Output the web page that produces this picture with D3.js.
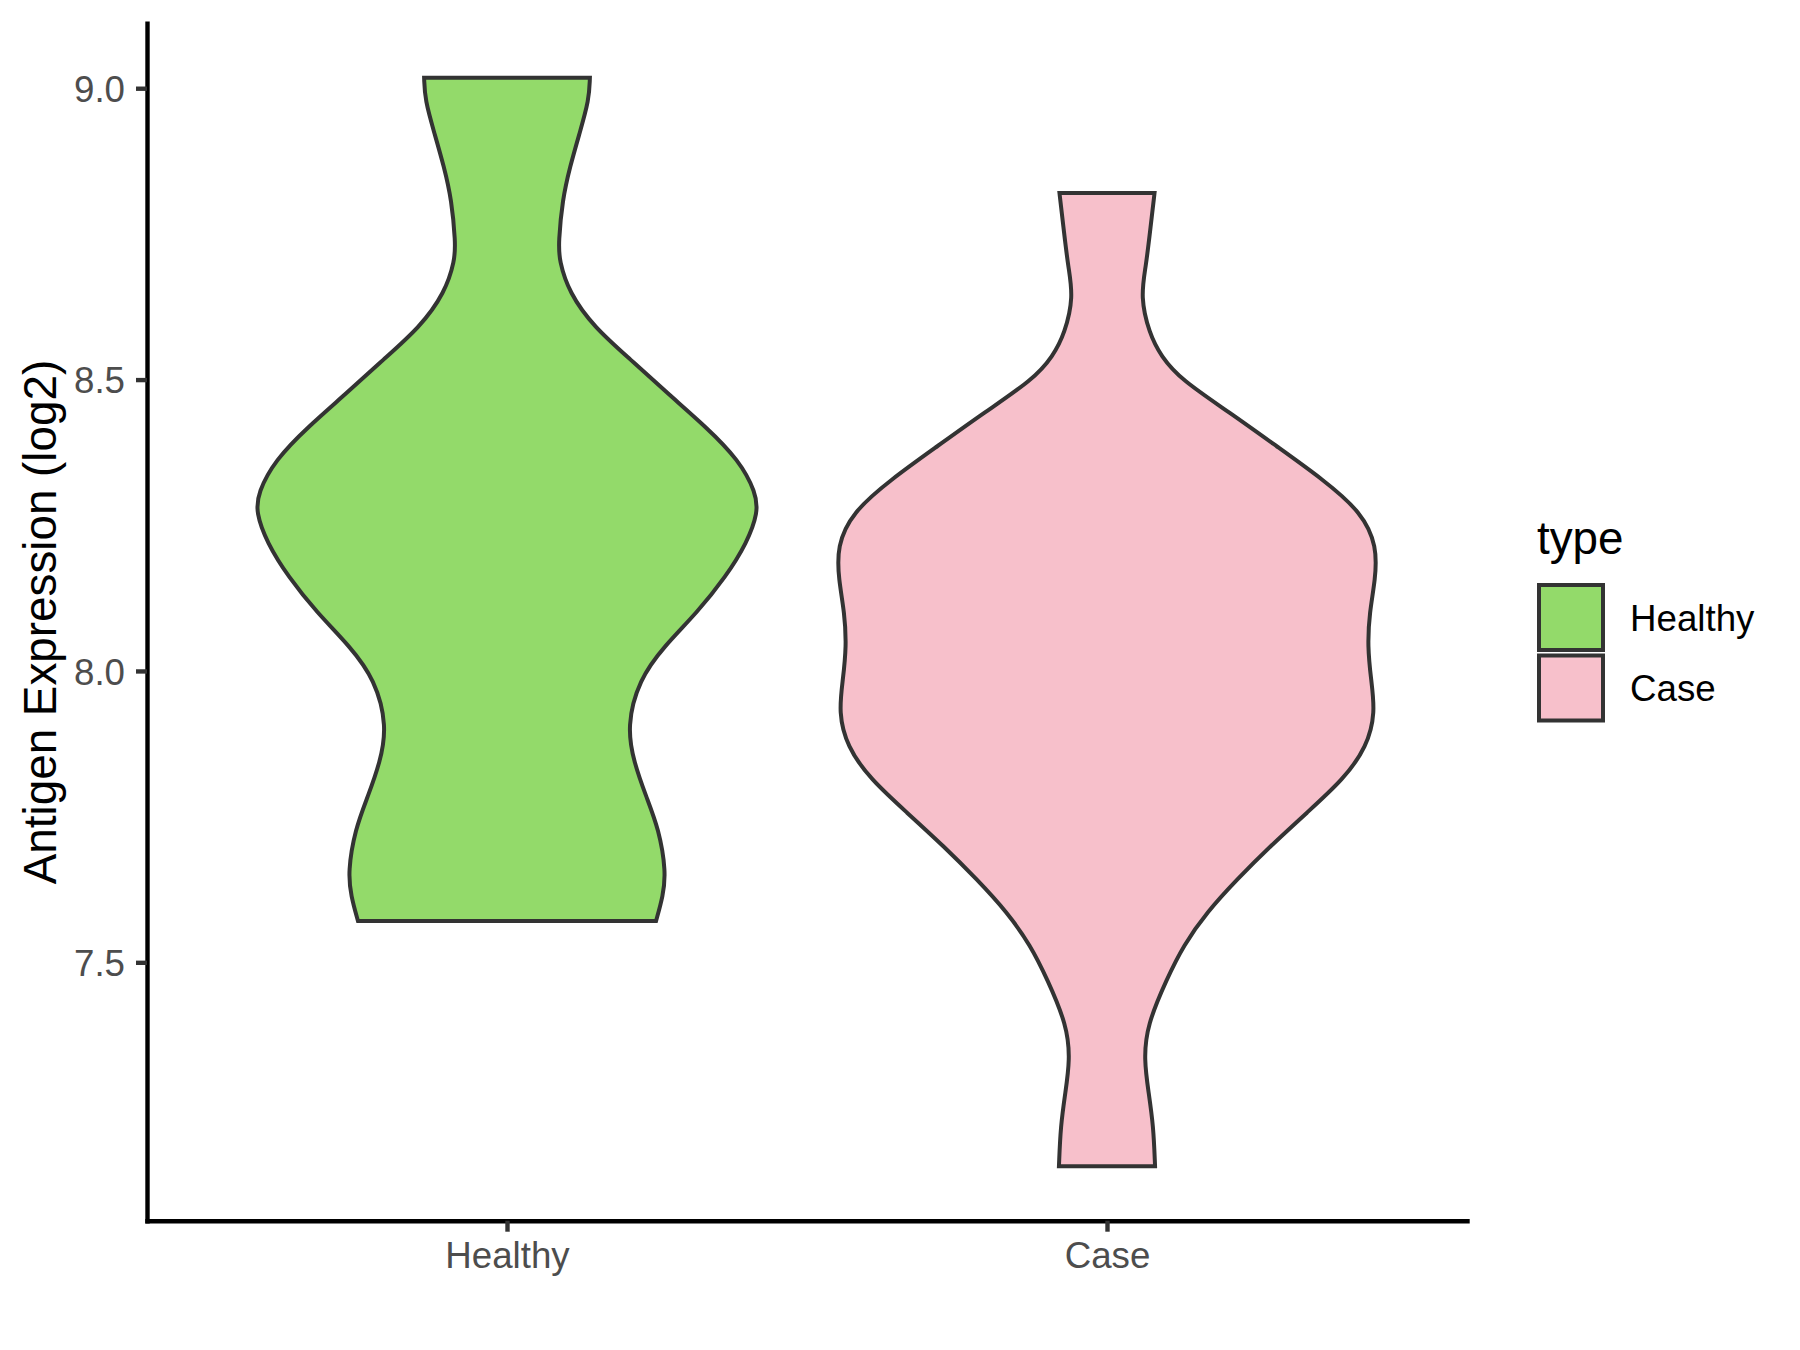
<!DOCTYPE html>
<html>
<head>
<meta charset="utf-8">
<script src="https://cdn.jsdelivr.net/npm/d3@7"></script>
<style>
  html, body { margin: 0; padding: 0; background: #ffffff; }
  svg { display: block; }
  text { font-family: "Liberation Sans", Arial, "DejaVu Sans", sans-serif; }
</style>
</head>
<body>
<svg id="chart" width="1800" height="1350"></svg>
<script>
// ---------------- data ----------------
const categories = ["Healthy", "Case"];
const fillColors = ["#93DA6A", "#F7C0CB"];
const yTickValues = [7.5, 8.0, 8.5, 9.0];
const yTitle = "Antigen Expression (log2)";
const legendTitle = "type";

// violin outlines: expression value (log2) and relative density
const healthyValues = [9.018, 8.980, 8.923, 8.865, 8.808, 8.735, 8.705, 8.649, 8.590, 8.534, 8.477, 8.419, 8.362, 8.306, 8.272, 8.220, 8.162, 8.100, 8.042, 7.985, 7.905, 7.843, 7.785, 7.728, 7.655, 7.614, 7.571];
const healthyDensity = [0.307, 0.304, 0.269, 0.233, 0.205, 0.191, 0.193, 0.230, 0.322, 0.459, 0.593, 0.737, 0.859, 0.922, 0.930, 0.889, 0.811, 0.704, 0.581, 0.489, 0.444, 0.470, 0.515, 0.563, 0.589, 0.578, 0.552];

const caseValues = [8.820, 8.752, 8.694, 8.642, 8.580, 8.540, 8.500, 8.443, 8.385, 8.328, 8.272, 8.214, 8.157, 8.100, 8.042, 7.985, 7.929, 7.870, 7.814, 7.757, 7.699, 7.642, 7.586, 7.529, 7.472, 7.392, 7.333, 7.277, 7.219, 7.150];
const caseDensity = [0.176, 0.159, 0.144, 0.124, 0.156, 0.200, 0.274, 0.456, 0.630, 0.802, 0.944, 1.000, 0.994, 0.972, 0.965, 0.978, 0.994, 0.963, 0.876, 0.741, 0.604, 0.481, 0.370, 0.283, 0.222, 0.148, 0.137, 0.154, 0.172, 0.178];

const violins = [
  { cat: categories[0], values: healthyValues, density: healthyDensity },
  { cat: categories[1], values: caseValues, density: caseDensity }
];

// ---------------- layout ----------------
const panel = { left: 147, right: 1467, top: 23.3, bottom: 1220.7 };
const svg = d3.select("#chart");

const allVals = healthyValues.concat(caseValues);
const lo = d3.min(allVals), hi = d3.max(allVals);
const pad = (hi - lo) * 0.05;

const y = d3.scaleLinear().domain([lo - pad, hi + pad]).range([panel.bottom, panel.top]);
const x = d3.scalePoint().domain(categories).range([panel.left, panel.right]).padding(0.6);
const color = d3.scaleOrdinal().domain(categories).range(fillColors);
const w = d3.scaleLinear().domain([0, 1]).range([0, x.step() * 0.45]);

// ---------------- violins ----------------
violins.forEach(v => {
  const cx = x(v.cat);
  const pts = v.values.map((val, i) => ({ val, d: v.density[i] }));
  const area = d3.area()
    .y(p => y(p.val))
    .x0(p => cx - w(p.d))
    .x1(p => cx + w(p.d))
    .curve(d3.curveBasis);
  svg.append("path")
    .attr("d", area(pts))
    .attr("fill", color(v.cat))
    .attr("stroke", "#333333")
    .attr("stroke-width", 4)
    .attr("stroke-linejoin", "miter");
});

// ---------------- axes ----------------
const xAxis = svg.append("g")
  .attr("transform", `translate(0,${panel.bottom})`)
  .call(d3.axisBottom(x).tickSize(11).tickSizeOuter(0).tickPadding(10));
const yAxis = svg.append("g")
  .attr("transform", `translate(${panel.left},0)`)
  .call(d3.axisLeft(y).tickValues(yTickValues).tickFormat(d3.format(".1f")).tickSize(11).tickSizeOuter(0).tickPadding(11));

[xAxis, yAxis].forEach(g => {
  g.select(".domain").attr("stroke", "#000000").attr("stroke-width", 4.4).attr("stroke-linecap", "square");
  g.selectAll(".tick line").attr("stroke", "#333333").attr("stroke-width", 4.4);
  g.selectAll(".tick text").attr("fill", "#4D4D4D").style("font-size", "36.7px")
    .style("font-family", "'Liberation Sans', Arial, sans-serif");
});
yAxis.selectAll(".tick text").attr("dy", "0.36em");

// y axis title
svg.append("text")
  .attr("transform", `translate(56,${(panel.top + panel.bottom) / 2}) rotate(-90)`)
  .attr("text-anchor", "middle")
  .attr("fill", "#000000")
  .style("font-size", "45.8px")
  .text(yTitle);

// ---------------- legend ----------------
const legend = svg.append("g");
legend.append("text")
  .attr("x", 1537).attr("y", 554)
  .attr("fill", "#000000")
  .style("font-size", "45.8px")
  .text(legendTitle);

categories.forEach((c, i) => {
  const top = 585 + i * 70.5;
  legend.append("rect")
    .attr("x", 1539).attr("y", top)
    .attr("width", 64).attr("height", 65)
    .attr("fill", color(c))
    .attr("stroke", "#333333")
    .attr("stroke-width", 4);
  legend.append("text")
    .attr("x", 1630).attr("y", top + 32.5)
    .attr("dy", "0.36em")
    .attr("fill", "#000000")
    .style("font-size", "36.7px")
    .text(c);
});
</script>
</body>
</html>
